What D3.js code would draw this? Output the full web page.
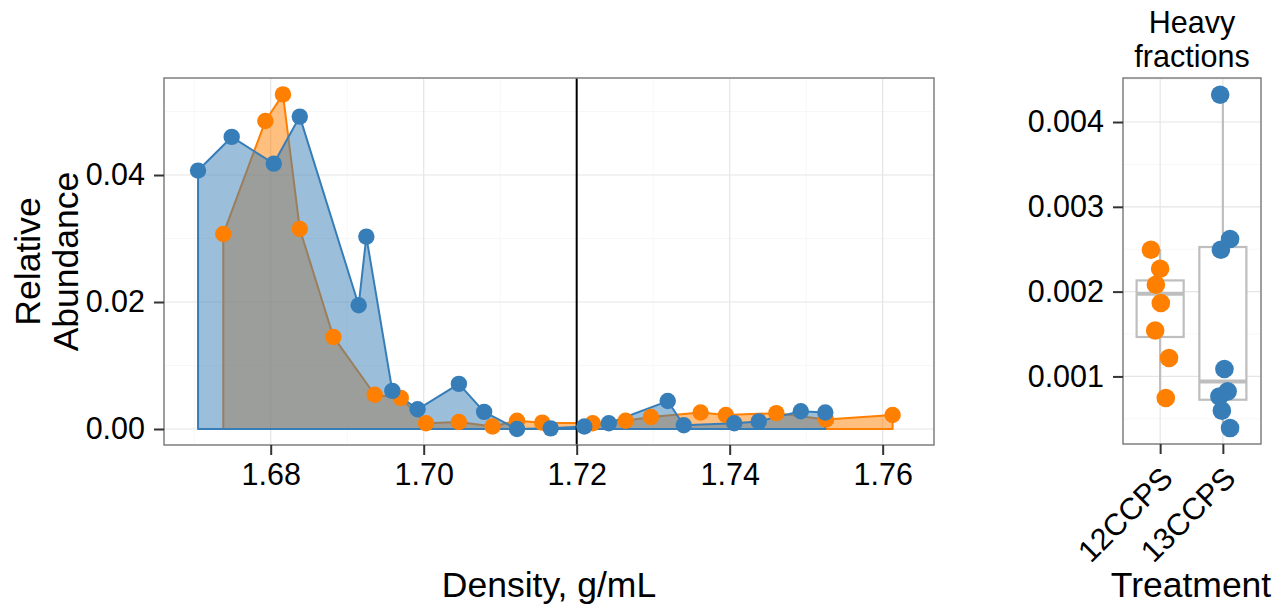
<!DOCTYPE html>
<meta charset="utf-8">
<style>
body { margin: 0; background: #fff; }
text { font-family: "Liberation Sans", Arial, Helvetica, sans-serif; fill: #000; }
.grid-major line { stroke: #e5e5e5; stroke-width: 1.2px; }
.grid-minor line { stroke: #f7f7f7; stroke-width: 1px; }
.axis .domain { display: none; }
.axis line { stroke: #333; stroke-width: 2px; }
.axis text { font-size: 30.5px; }
.title { font-size: 35.5px; }
</style>
<svg width="1284" height="610"></svg>
<script src="https://d3js.org/d3.v7.min.js"></script>
<script>
// gradient fractions: buoyant density (g/mL) and relative abundance
var density12 = [1.6738, 1.6793, 1.6816, 1.6838, 1.6882, 1.6936, 1.6970, 1.7003, 1.7046, 1.7090,
                 1.7122, 1.7155, 1.7221, 1.7264, 1.7297, 1.7362, 1.7395, 1.7461, 1.7526, 1.7613];
var abund12   = [0.0307, 0.0485, 0.0527, 0.0315, 0.0145, 0.0054, 0.0049, 0.0009, 0.0011, 0.0004,
                 0.0013, 0.0010, 0.0009, 0.0013, 0.0019, 0.0026, 0.0022, 0.0025, 0.0015, 0.0022];
var density13 = [1.6705, 1.6749, 1.6804, 1.6838, 1.6915, 1.6925, 1.6959, 1.6992, 1.7046, 1.7079,
                 1.7122, 1.7166, 1.7210, 1.7242, 1.7319, 1.7340, 1.7406, 1.7438, 1.7493, 1.7525];
var abund13   = [0.0407, 0.0460, 0.0418, 0.0492, 0.0195, 0.0303, 0.0060, 0.0031, 0.0071, 0.0027,
                 0.0000, 0.0001, 0.0004, 0.0009, 0.0044, 0.0006, 0.0009, 0.0012, 0.0028, 0.0026];
var cutoff = 1.72;

// heavy fractions per treatment (as plotted, with jitter offset in category units)
var treatments = ["12CCPS", "13CCPS"];
var heavy12  = [0.002494, 0.002270, 0.002081, 0.001866, 0.001542, 0.001217, 0.000745];
var jitter12 = [-0.147, 0.0, -0.068, 0.011, -0.079, 0.142, 0.09];
var heavy13  = [0.004322, 0.002620, 0.002494, 0.001087, 0.000823, 0.000764, 0.000596, 0.000391];
var jitter13 = [-0.043, 0.115, -0.032, 0.025, 0.076, -0.055, -0.016, 0.115];
// box stats: lower whisker, q1, median, q3, upper whisker
var box12 = [0.00075, 0.001465, 0.001975, 0.002132, 0.0025];
var box13 = [0.00040, 0.000725, 0.000941, 0.002526, 0.004322];

var xTicks = [1.68, 1.70, 1.72, 1.74, 1.76];
var yTicks = [0, 0.02, 0.04];
var yTicksHeavy = [0.001, 0.002, 0.003, 0.004];

var orange = "#FF7F00", blue = "#377EB8";

var svg = d3.select("svg");

//---------- left panel
var L = {x0: 164, x1: 934, y0: 78, y1: 445};
var x = d3.scaleLinear().domain([1.66605, 1.76671]).range([L.x0, L.x1]);
var y = d3.scaleLinear().domain([-0.00252, 0.05528]).range([L.y1, L.y0]);

var left = svg.append("g");
left.append("rect").attr("x", L.x0).attr("y", L.y0)
    .attr("width", L.x1 - L.x0).attr("height", L.y1 - L.y0).attr("fill", "#fff");

var minor = left.append("g").attr("class", "grid-minor");
minor.selectAll(".vx").data(x.ticks(10).filter(function(d) { return xTicks.indexOf(+d.toFixed(2)) < 0; }))
  .enter().append("line")
    .attr("x1", x).attr("x2", x).attr("y1", L.y0).attr("y2", L.y1);
minor.selectAll(".hy").data(y.ticks(6).filter(function(d) { return yTicks.indexOf(+d.toFixed(2)) < 0; }))
  .enter().append("line")
    .attr("y1", y).attr("y2", y).attr("x1", L.x0).attr("x2", L.x1);

var major = left.append("g").attr("class", "grid-major");
major.selectAll(".vx").data(xTicks).enter().append("line")
    .attr("x1", x).attr("x2", x).attr("y1", L.y0).attr("y2", L.y1);
major.selectAll(".hy").data(yTicks).enter().append("line")
    .attr("y1", y).attr("y2", y).attr("x1", L.x0).attr("x2", L.x1);

var area = d3.area()
    .x(function(d) { return x(d[0]); })
    .y0(y(0))
    .y1(function(d) { return y(d[1]); });

var series12 = d3.zip(density12, abund12);
var series13 = d3.zip(density13, abund13);

left.append("path").datum(series12)
    .attr("d", area)
    .attr("fill", orange).attr("fill-opacity", 0.5)
    .attr("stroke", orange).attr("stroke-width", 2).attr("stroke-linejoin", "round");
left.append("path").datum(series13)
    .attr("d", area)
    .attr("fill", blue).attr("fill-opacity", 0.5)
    .attr("stroke", blue).attr("stroke-width", 2).attr("stroke-linejoin", "round");

left.append("line")
    .attr("x1", x(cutoff)).attr("x2", x(cutoff))
    .attr("y1", L.y0).attr("y2", L.y1)
    .attr("stroke", "#000").attr("stroke-width", 2);

left.append("g").selectAll("circle").data(series12).enter().append("circle")
    .attr("cx", function(d) { return x(d[0]); })
    .attr("cy", function(d) { return y(d[1]); })
    .attr("r", 8.2).attr("fill", orange);
left.append("g").selectAll("circle").data(series13).enter().append("circle")
    .attr("cx", function(d) { return x(d[0]); })
    .attr("cy", function(d) { return y(d[1]); })
    .attr("r", 8.2).attr("fill", blue);

left.append("rect").attr("x", L.x0).attr("y", L.y0)
    .attr("width", L.x1 - L.x0).attr("height", L.y1 - L.y0)
    .attr("fill", "none").attr("stroke", "#7f7f7f").attr("stroke-width", 1.5);

left.append("g").attr("class", "axis")
    .attr("transform", "translate(0," + L.y1 + ")")
    .call(d3.axisBottom(x).tickValues(xTicks).tickFormat(d3.format(".2f")).tickSize(10).tickPadding(8));
left.append("g").attr("class", "axis")
    .attr("transform", "translate(" + L.x0 + ",0)")
    .call(d3.axisLeft(y).tickValues(yTicks).tickFormat(d3.format(".2f")).tickSize(10).tickPadding(9));

svg.append("text").attr("class", "title")
    .attr("x", (L.x0 + L.x1) / 2).attr("y", 597)
    .attr("text-anchor", "middle").text("Density, g/mL");
svg.append("text").attr("class", "title")
    .attr("transform", "translate(40," + (L.y0 + L.y1) / 2 + ") rotate(-90)")
    .attr("text-anchor", "middle").text("Relative");
svg.append("text").attr("class", "title")
    .attr("transform", "translate(78," + (L.y0 + L.y1) / 2 + ") rotate(-90)")
    .attr("text-anchor", "middle").text("Abundance");

//---------- right panel
var R = {x0: 1123, x1: 1261, y0: 78, y1: 444};
var xb = d3.scalePoint().domain(treatments).range([R.x0 - 0.5, R.x1 - 0.5]).padding(0.6);
var yb = d3.scaleLinear().domain([0.000203, 0.004519]).range([R.y1, R.y0]);
var step = xb.step();

var right = svg.append("g");
right.append("rect").attr("x", R.x0).attr("y", R.y0)
    .attr("width", R.x1 - R.x0).attr("height", R.y1 - R.y0).attr("fill", "#fff");

right.append("g").attr("class", "grid-minor").selectAll("line")
    .data(yb.ticks(10).filter(function(d) { return yTicksHeavy.indexOf(+d.toFixed(4)) < 0; }))
  .enter().append("line")
    .attr("y1", yb).attr("y2", yb).attr("x1", R.x0).attr("x2", R.x1);
var majorR = right.append("g").attr("class", "grid-major");
majorR.selectAll(".hy").data(yTicksHeavy).enter().append("line")
    .attr("y1", yb).attr("y2", yb).attr("x1", R.x0).attr("x2", R.x1);
majorR.selectAll(".vx").data(treatments).enter().append("line")
    .attr("x1", xb).attr("x2", xb).attr("y1", R.y0).attr("y2", R.y1);

var boxes = [{t: "12CCPS", s: box12}, {t: "13CCPS", s: box13}];
var bw = step * 0.75;
var bx = right.append("g").selectAll("g").data(boxes).enter().append("g")
    .attr("stroke", "#bebebe").attr("stroke-width", 2.2).attr("fill", "none");
bx.append("line")
    .attr("x1", function(d) { return xb(d.t); }).attr("x2", function(d) { return xb(d.t); })
    .attr("y1", function(d) { return yb(d.s[0]); }).attr("y2", function(d) { return yb(d.s[1]); });
bx.append("line")
    .attr("x1", function(d) { return xb(d.t); }).attr("x2", function(d) { return xb(d.t); })
    .attr("y1", function(d) { return yb(d.s[3]); }).attr("y2", function(d) { return yb(d.s[4]); });
bx.append("rect")
    .attr("x", function(d) { return xb(d.t) - bw / 2; })
    .attr("width", bw)
    .attr("y", function(d) { return yb(d.s[3]); })
    .attr("height", function(d) { return yb(d.s[1]) - yb(d.s[3]); })
    .attr("fill", "#fff");
bx.append("line")
    .attr("x1", function(d) { return xb(d.t) - bw / 2; }).attr("x2", function(d) { return xb(d.t) + bw / 2; })
    .attr("y1", function(d) { return yb(d.s[2]); }).attr("y2", function(d) { return yb(d.s[2]); })
    .attr("stroke-width", 4);

var pts12 = d3.zip(heavy12, jitter12), pts13 = d3.zip(heavy13, jitter13);
right.append("g").selectAll("circle").data(pts12).enter().append("circle")
    .attr("cx", function(d) { return xb("12CCPS") + d[1] * step; })
    .attr("cy", function(d) { return yb(d[0]); })
    .attr("r", 9.3).attr("fill", orange);
right.append("g").selectAll("circle").data(pts13).enter().append("circle")
    .attr("cx", function(d) { return xb("13CCPS") + d[1] * step; })
    .attr("cy", function(d) { return yb(d[0]); })
    .attr("r", 9.3).attr("fill", blue);

right.append("rect").attr("x", R.x0).attr("y", R.y0)
    .attr("width", R.x1 - R.x0).attr("height", R.y1 - R.y0)
    .attr("fill", "none").attr("stroke", "#7f7f7f").attr("stroke-width", 1.5);

right.append("g").attr("class", "axis")
    .attr("transform", "translate(" + R.x0 + ",0)")
    .call(d3.axisLeft(yb).tickValues(yTicksHeavy).tickFormat(d3.format(".3f")).tickSize(10).tickPadding(9));

var xAxisR = right.append("g").attr("class", "axis")
    .attr("transform", "translate(0," + R.y1 + ")")
    .call(d3.axisBottom(xb).tickSize(10));
xAxisR.selectAll("text")
    .attr("text-anchor", "end")
    .attr("dy", null)
    .attr("y", null)
    .attr("transform", "translate(14,36) rotate(-45)");

svg.append("text").attr("class", "title")
    .attr("x", (R.x0 + R.x1) / 2 - 1).attr("y", 597)
    .attr("text-anchor", "middle").text("Treatment");
svg.append("text").attr("x", (R.x0 + R.x1) / 2).attr("y", 33)
    .attr("text-anchor", "middle").style("font-size", "30.5px").text("Heavy");
svg.append("text").attr("x", (R.x0 + R.x1) / 2).attr("y", 67)
    .attr("text-anchor", "middle").style("font-size", "30.5px").text("fractions");
</script>
